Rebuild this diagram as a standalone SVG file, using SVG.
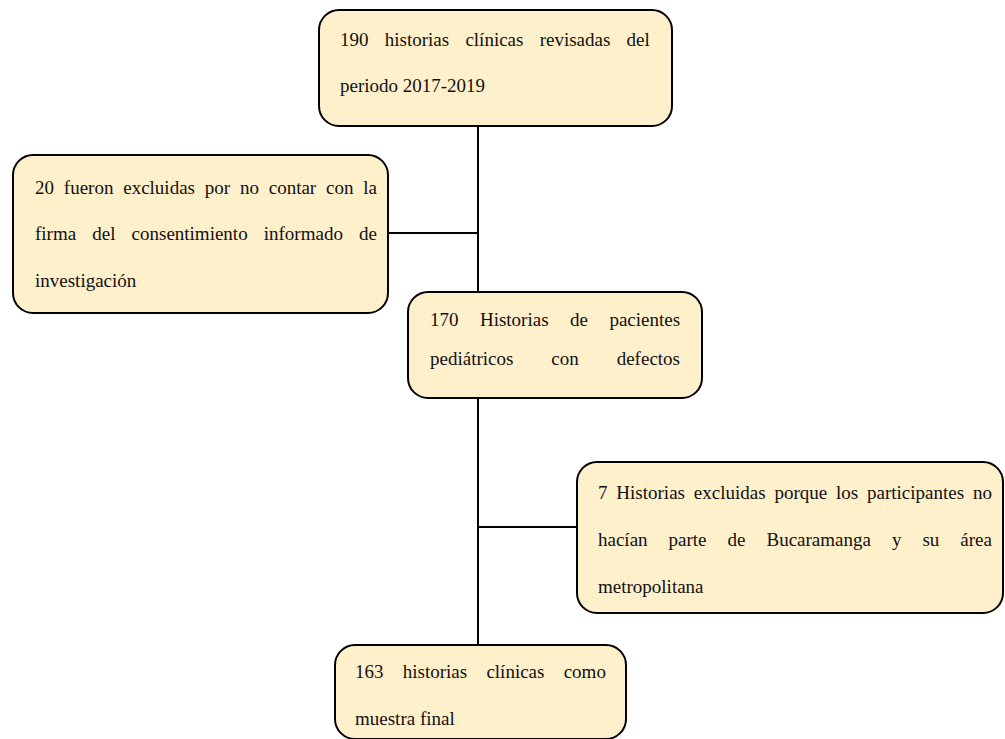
<svg xmlns="http://www.w3.org/2000/svg" width="1005" height="739" viewBox="0 0 1005 739">
<style>
.box{fill:#FFF0CC;stroke:#000;stroke-width:2}
.t{font-family:'Liberation Serif','Times New Roman','DejaVu Serif',serif;font-size:19px;fill:#111}
.ln{stroke:#000;stroke-width:2;fill:none}
</style>
<rect width="1005" height="739" fill="#fff"/>
<g id="connectors">
<line class="ln" x1="478" y1="126" x2="478" y2="292"/>
<line class="ln" x1="388" y1="233" x2="478" y2="233"/>
<line class="ln" x1="478" y1="398" x2="478" y2="645"/>
<line class="ln" x1="478" y1="527" x2="577" y2="527"/>
</g>
<g id="n1" font-family="Liberation Serif, Times New Roman, serif">
<rect class="box" x="319" y="10" width="353" height="116" rx="20"/>
<text class="t" x="340" y="46" word-spacing="11.5">190 historias clínicas revisadas del</text>
<text class="t" x="340" y="92">periodo 2017-2019</text>
</g>
<g id="n2" font-family="Liberation Serif, Times New Roman, serif">
<rect class="box" x="13" y="155" width="375" height="158" rx="20"/>
<text class="t" x="35" y="194" word-spacing="5.06">20 fueron excluidas por no contar con la</text>
<text class="t" x="35" y="240" word-spacing="11.35">firma del consentimiento informado de</text>
<text class="t" x="35" y="287">investigación</text>
</g>
<g id="n3" font-family="Liberation Serif, Times New Roman, serif">
<rect class="box" x="408" y="292" width="294" height="106" rx="20"/>
<text class="t" x="430" y="326" word-spacing="16.7">170 Historias de pacientes</text>
<text class="t" x="430" y="365" word-spacing="33.2">pediátricos con defectos</text>
</g>
<g id="n4" font-family="Liberation Serif, Times New Roman, serif">
<rect class="box" x="577" y="462" width="426" height="151" rx="20"/>
<text class="t" x="598" y="499" word-spacing="4.1">7 Historias excluidas porque los participantes no</text>
<text class="t" x="598" y="546" word-spacing="16.25">hacían parte de Bucaramanga y su área</text>
<text class="t" x="598" y="593">metropolitana</text>
</g>
<g id="n5" font-family="Liberation Serif, Times New Roman, serif">
<rect class="box" x="335" y="645" width="291" height="94" rx="20"/>
<text class="t" x="355" y="678" word-spacing="14.5">163 historias clínicas como</text>
<text class="t" x="355" y="725">muestra final</text>
</g>
</svg>
